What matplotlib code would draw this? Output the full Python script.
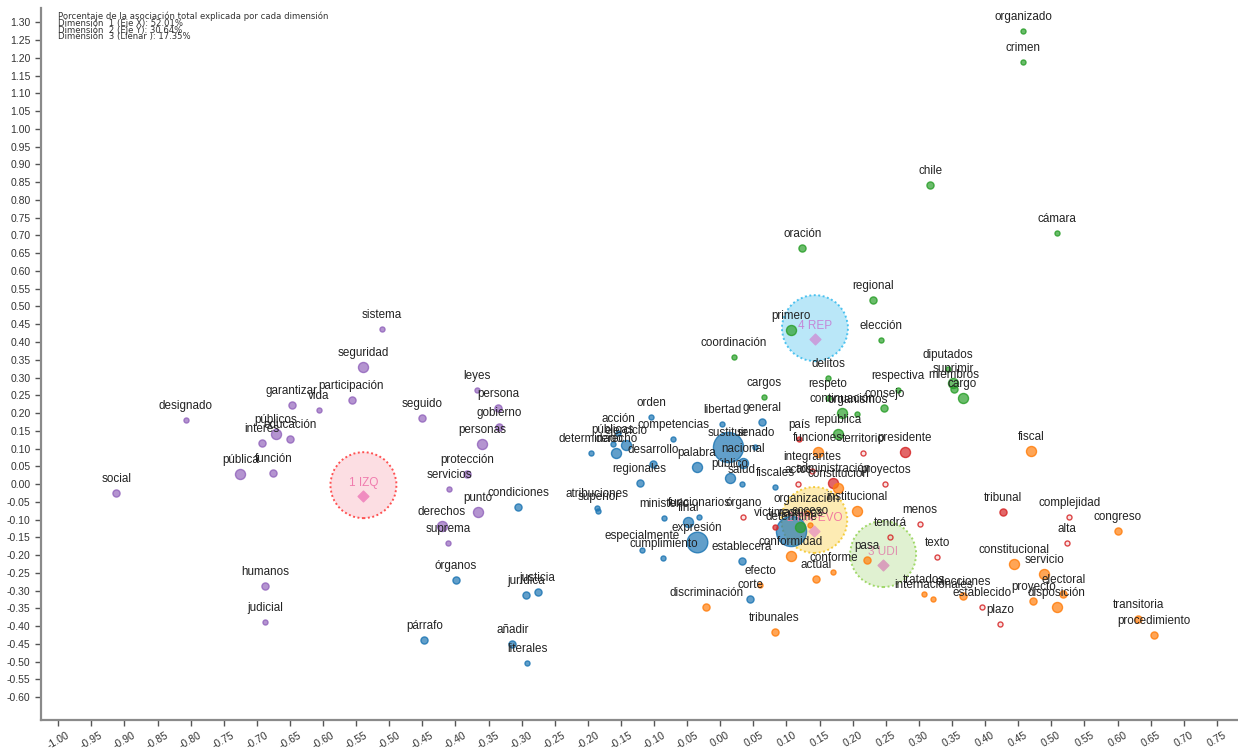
import numpy as np
import matplotlib
matplotlib.use("Agg")
import matplotlib.pyplot as plt
from matplotlib.transforms import offset_copy

plt.rcParams['font.family'] = ['Liberation Sans', 'DejaVu Sans']

# Palabras (filas) del analisis de correspondencias
palabras = [
    # grupo morado
    "sistema", "seguridad", "participación", "garantizar", "vida", "designado",
    "públicos", "educación", "interés", "pública", "función", "social",
    "humanos", "judicial", "seguido", "leyes", "persona", "gobierno",
    "personas", "protección", "servicios", "punto", "derechos", "suprema",
    # grupo azul
    "condiciones", "órganos", "párrafo", "jurídica", "justicia", "añadir",
    "literales", "atribuciones", "superior", "determinado", "acción", "públicas",
    "ejercicio", "derecho", "orden", "competencias", "desarrollo", "regionales",
    "palabra", "libertad", "general", "sustituir", "senado", "nacional",
    "público", "salud", "fiscales", "ministerio", "final", "funcionarios",
    "expresión", "especialmente", "cumplimiento", "establecerá", "corte", "determine",
    # grupo verde
    "organizado", "crimen", "chile", "cámara", "oración", "regional",
    "primero", "elección", "coordinación", "diputados", "suprimir", "miembros",
    "cargo", "respectiva", "consejo", "delitos", "respeto", "continuación",
    "organismos", "república", "cargos", "recursos",
    # grupo rojo
    "actos", "administración", "proyectos", "territorio", "presidente", "país",
    "integrantes", "órgano", "víctimas", "tendrá", "menos", "texto",
    "establecido", "plazo", "tribunal", "complejidad", "alta",
    # grupo naranja
    "funciones", "constitución", "institucional", "organización", "acceso", "conformidad",
    "conforme", "actual", "pasa", "tratados", "internacionales", "elecciones",
    "fiscal", "constitucional", "servicio", "electoral", "proyecto", "disposición",
    "congreso", "transitoria", "procedimiento", "discriminación", "tribunales", "efecto",
]

dim1 = [
    -0.511, -0.539, -0.557, -0.647, -0.606, -0.807,
    -0.671, -0.650, -0.692, -0.725, -0.675, -0.912,
    -0.687, -0.687, -0.450, -0.367, -0.335, -0.334,
    -0.360, -0.382, -0.409, -0.366, -0.421, -0.411,
    -0.305, -0.399, -0.447, -0.293, -0.276, -0.314,
    -0.292, -0.186, -0.184, -0.196, -0.154, -0.162,
    -0.143, -0.157, -0.104, -0.071, -0.101, -0.122,
    -0.035, 0.003, 0.063, 0.012, 0.053, 0.035,
    0.015, 0.033, 0.083, -0.085, -0.048, -0.032,
    -0.035, -0.118, -0.086, 0.033, 0.045, 0.107,
    0.458, 0.458, 0.317, 0.508, 0.124, 0.231,
    0.107, 0.243, 0.021, 0.344, 0.352, 0.353,
    0.366, 0.269, 0.248, 0.163, 0.162, 0.184,
    0.207, 0.178, 0.066, 0.121,
    0.118, 0.171, 0.249, 0.216, 0.279, 0.119,
    0.139, 0.035, 0.083, 0.257, 0.302, 0.328,
    0.396, 0.423, 0.427, 0.527, 0.524,
    0.148, 0.178, 0.207, 0.131, 0.136, 0.107,
    0.171, 0.145, 0.221, 0.308, 0.322, 0.367,
    0.470, 0.443, 0.489, 0.518, 0.473, 0.508,
    0.600, 0.631, 0.655, -0.021, 0.082, 0.060,
]

dim2 = [
    0.436, 0.329, 0.236, 0.222, 0.208, 0.180,
    0.141, 0.127, 0.115, 0.028, 0.031, -0.025,
    -0.287, -0.388, 0.186, 0.265, 0.214, 0.160,
    0.113, 0.028, -0.014, -0.079, -0.118, -0.166,
    -0.065, -0.270, -0.439, -0.312, -0.304, -0.450,
    -0.504, -0.068, -0.076, 0.087, 0.144, 0.113,
    0.110, 0.087, 0.189, 0.127, 0.056, 0.003,
    0.048, 0.169, 0.175, 0.104, 0.104, 0.059,
    0.017, 0.000, -0.008, -0.096, -0.107, -0.093,
    -0.163, -0.186, -0.208, -0.217, -0.324, -0.132,
    1.275, 1.188, 0.842, 0.706, 0.664, 0.518,
    0.433, 0.405, 0.357, 0.324, 0.284, 0.267,
    0.242, 0.265, 0.214, 0.298, 0.242, 0.200,
    0.197, 0.141, 0.245, -0.121,
    0.000, 0.003, 0.000, 0.087, 0.090, 0.127,
    0.037, -0.093, -0.121, -0.149, -0.113, -0.205,
    -0.346, -0.394, -0.079, -0.093, -0.166,
    0.090, -0.011, -0.076, -0.082, -0.115, -0.203,
    -0.248, -0.267, -0.214, -0.310, -0.324, -0.315,
    0.093, -0.225, -0.253, -0.310, -0.329, -0.346,
    -0.132, -0.380, -0.425, -0.346, -0.417, -0.284,
]

# grupo de cada palabra (P morado, B azul, G verde, R rojo, O naranja)
grupo = ["P"] * 24 + ["B"] * 36 + ["G"] * 22 + ["R"] * 17 + ["O"] * 24

# masa relativa (1 = muy poca, 5 = mucha)
masa = [
    1, 3, 2, 2, 1, 1, 3, 2, 2, 3, 2, 2, 2, 1, 2, 1, 2, 2, 3, 2, 1, 3, 3, 1,
    2, 2, 2, 2, 2, 2, 1, 1, 1, 1, 1, 1, 3, 3, 1, 1, 2, 2, 3, 1, 2, 5, 1, 3,
    3, 1, 1, 1, 3, 1, 4, 1, 1, 2, 2, 5,
    1, 1, 2, 1, 2, 2, 3, 1, 1, 1, 3, 2, 3, 1, 2, 1, 1, 3, 1, 3, 1, 3,
    1, 3, 1, 1, 3, 1, 1, 1, 1, 1, 1, 1, 1, 1, 2, 1, 1,
    3, 3, 3, 1, 1, 3, 1, 2, 2, 1, 1, 2, 3, 3, 3, 2, 2, 3, 2, 2, 2, 2, 2, 1,
]

# palabras con poco relleno (dimension 3)
huecas = {"actos", "proyectos", "territorio", "integrantes", "órgano", "tendrá",
          "menos", "texto", "establecido", "plazo", "complejidad", "alta"}

# columnas (partidos)
partidos = ["1 IZQ", "4 REP", "2 RN-EVO", "3 UDI"]
partido_x = [-0.539, 0.143, 0.142, 0.246]
partido_y = [-0.034, 0.408, -0.132, -0.228]

colores = {"P": "#9467bd", "B": "#1f77b4", "G": "#2ca02c", "R": "#d62728", "O": "#ff7f0e"}
tam = {1: 13, 2: 26, 3: 52, 4: 220, 5: 470}

fig = plt.figure(figsize=(12.38, 7.49), dpi=100)
ax = fig.add_axes([41 / 1238, 29 / 749, 1197 / 1238, 712 / 749])

# circulos de los partidos
relleno_c = ["#fcd6dc", "#a9e1f7", "#fde6a0", "#d9eec6"]
borde_c = ["#ff2a2a", "#29b6ec", "#f2c21b", "#8dd04a"]
texto_c = ["#f07cae", "#c488d8", "#f27aa0", "#e090b0"]
rombo_c = ["#f08cc0", "#c9a0dc", "#eba6be", "#d9a0bc"]
tr_circ = offset_copy(ax.transData, fig=fig, x=0, y=11, units='dots')
for i in range(len(partidos)):
    ax.scatter(partido_x[i], partido_y[i], s=2256, transform=tr_circ,
               facecolor=relleno_c[i], edgecolor=borde_c[i], linewidths=1.4,
               linestyles=(0, (1, 1.3)), alpha=0.8, zorder=1)

# puntos de las palabras
for i in range(len(palabras)):
    c = colores[grupo[i]]
    if palabras[i] in huecas:
        fc = matplotlib.colors.to_rgba(c, 0.12)
    else:
        fc = matplotlib.colors.to_rgba(c, 0.7)
    ax.scatter(dim1[i], dim2[i], s=tam[masa[i]], facecolor=fc,
               edgecolor=matplotlib.colors.to_rgba(c, 0.85), linewidths=1.0, zorder=2)

# rombos y etiquetas de partidos
tr_lab = offset_copy(ax.transData, fig=fig, x=0, y=10, units='dots')
for i in range(len(partidos)):
    ax.scatter(partido_x[i], partido_y[i], marker='D', s=30, color=rombo_c[i], zorder=3)
    ax.text(partido_x[i], partido_y[i], partidos[i], transform=tr_lab, ha='center',
            va='baseline', fontsize=8.5, color=texto_c[i], zorder=3)

# etiquetas de las palabras
tr_pal = offset_copy(ax.transData, fig=fig, x=0, y=11, units='dots')
for i in range(len(palabras)):
    ax.text(dim1[i], dim2[i], palabras[i], transform=tr_pal, ha='center',
            va='baseline', fontsize=8.4, color='#222222', zorder=4)

ax.set_xlim(-1.026, 0.782)
ax.set_ylim(-0.664, 1.34)

xt = np.round(np.arange(-1.00, 0.751, 0.05), 2)
yt = np.round(np.arange(-0.60, 1.301, 0.05), 2)
ax.set_xticks(xt)
ax.set_xticklabels(["%.2f" % (v + 0.0) for v in xt], rotation=30, ha='center')
ax.set_yticks(yt)
ax.set_yticklabels(["%.2f" % (v + 0.0) for v in yt])

ax.spines['top'].set_visible(False)
ax.spines['right'].set_visible(False)
for s in ['left', 'bottom']:
    ax.spines[s].set_color('#8a8a8a')
    ax.spines[s].set_linewidth(1.6)
ax.tick_params(axis='both', labelsize=7.5, labelcolor='#333333', color='#555555',
               length=4, width=1)

# texto de la inercia explicada
lineas = ["Porcentaje de la asociación total explicada por cada dimensión",
          "Dimensión  1 (Eje X): 52.01%",
          "Dimensión  2 (Eje Y): 30.64%",
          "Dimensión  3 (Llenar ): 17.35%"]
for k, t in enumerate(lineas):
    fig.text(58 / 1238, 1 - (16 + 7 * k) / 749, t, fontsize=6.1, color='#333333',
             family='DejaVu Sans', va='center', ha='left')

fig.savefig("out.png", dpi=100)
